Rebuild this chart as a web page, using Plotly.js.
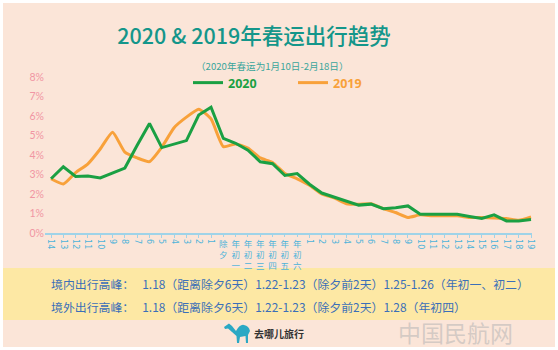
<!DOCTYPE html>
<html><head><meta charset="utf-8">
<script src="https://cdn.plot.ly/plotly-3.0.1.min.js"></script>
<style>html,body{margin:0;padding:0;background:#fff}#chart{width:558px;height:350px}</style>
</head><body><div id="chart"></div>
<script>
// category keys (2020 dates of 春运 1/10 - 2/18)
const dates = ['1/10','1/11','1/12','1/13','1/14','1/15','1/16','1/17','1/18','1/19','1/20','1/21','1/22','1/23',
  '1/24','1/25','1/26','1/27','1/28','1/29','1/30',
  '1/31','2/1','2/2','2/3','2/4','2/5','2/6','2/7','2/8','2/9','2/10','2/11','2/12','2/13','2/14','2/15','2/16','2/17','2/18'];
// tick labels as shown on the chart
const tickLabels = ['14','13','12','11','10','9','8','7','6','5','4','3','2','1',
  '除夕','年初一','年初二','年初三','年初四','年初五','年初六',
  '1','2','3','4','5','6','7','8','9','10','11','12','13','14','15','16','17','18','19'];
// share of travel (%)
const values2020 = [2.78,3.40,2.90,2.92,2.82,3.08,3.33,4.50,5.62,4.38,
  4.55,4.74,6.05,6.45,4.85,4.60,4.25,3.65,3.55,2.95,
  3.05,2.50,2.05,1.85,1.65,1.43,1.48,1.25,1.30,1.39,
  0.96,0.96,0.96,0.96,0.85,0.75,0.93,0.62,0.62,0.69];
const values2019 = [2.78,2.51,3.10,3.55,4.31,5.17,4.15,3.85,3.66,4.40,
  5.40,5.94,6.35,5.85,4.43,4.57,4.36,3.85,3.62,3.05,
  2.78,2.45,2.00,1.80,1.50,1.47,1.50,1.25,1.05,0.80,
  0.93,0.88,0.88,0.88,0.80,0.79,0.77,0.74,0.65,0.82];
const yTicks = [0,1,2,3,4,5,6,7,8];
const yTickLabels = ['0%','1%','2%','3%','4%','5%','6%','7%','8%'];

const series = ['2020','2019'];
const titleText = '2020 & 2019年春运出行趋势';
const subtitleText = '（2020年春运为1月10日-2月18日）';
const domesticPeak = '境内出行高峰：   1.18（距离除夕6天）1.22-1.23（除夕前2天）1.25-1.26（年初一、初二）';
const overseasPeak = '境外出行高峰：   1.18（距离除夕6天）1.22-1.23（除夕前2天）1.28（年初四）';
const brand = '去哪儿旅行';
const watermark = '中国民航网';

const GREEN = '#1aa043', ORANGE = '#f8a13a', TICK = '#4db3da', CN = 'Noto Sans CJK SC';

// split ticks: numbers rotated, chinese stacked
const isCn = s => /[\u4e00-\u9fff]/.test(s);
const numVals = [], numText = [], cnVals = [], cnText = [];
tickLabels.forEach((t, i) => {
  if (isCn(t)) { cnVals.push(i); cnText.push(t.split('').join('<br>')); }
  else { numVals.push(dates[i]); numText.push(t); }
});

// pixel -> paper helpers (plot area: l=45, t=77, w=487, h=156)
const L = 45, T = 77, W = 487, H = 156;
const px = x => (x - L) / W, py = y => (T + H - y) / H;
function path(pts) {
  return pts.map(p => p[0] + ' ' + px(p[1]).toFixed(4) + ',' + py(p[2]).toFixed(4)).join(' ') + ' Z';
}

const xRange = [-0.49, 39.08];

const data = [
  {x: dates, y: values2019, name: '<b><span style="color:' + ORANGE + '">' + series[1] + '</span></b>', type: 'scatter', mode: 'lines',
   line: {color: ORANGE, width: 3, shape: 'spline', smoothing: 0.5}, legendrank: 2},
  {x: dates, y: values2020, name: '<b><span style="color:' + GREEN + '">' + series[0] + '</span></b>', type: 'scatter', mode: 'lines',
   line: {color: GREEN, width: 3}, legendrank: 1},
  // invisible helper so the overlay axis (chinese labels) is drawn
  {x: cnVals, y: cnVals.map(i => values2020[i]), xaxis: 'x2', type: 'scatter', mode: 'markers',
   marker: {opacity: 0, size: 1}, showlegend: false, hoverinfo: 'skip'}
];

const layout = {
  width: 558, height: 350,
  margin: {l: L, r: 558 - L - W, t: T, b: 350 - T - H},
  paper_bgcolor: '#ffffff', plot_bgcolor: 'rgba(0,0,0,0)',
  font: {family: CN},
  title: {text: titleText, x: 254/558, xanchor: 'center', xref: 'container', y: 1 - 36/350, yanchor: 'middle', yref: 'container',
    font: {family: CN, size: 21.5, color: '#14968a', weight: 500}},
  showlegend: true,
  legend: {orientation: 'h', x: px(188), xanchor: 'left', y: py(83), yanchor: 'middle',
    bgcolor: 'rgba(0,0,0,0)', font: {size: 12.5, family: 'Noto Sans'}, entrywidth: 60, entrywidthmode: 'pixels'},
  xaxis: {type: 'category', categoryorder: 'array', categoryarray: dates, range: xRange,
    tickmode: 'array', tickvals: numVals, ticktext: numText, tickangle: 90,
    tickfont: {size: 8, color: TICK, family: 'DejaVu Sans'}, ticks: 'outside', ticklen: 3, tickcolor: '#9fd3e8', tickwidth: 1,
    showline: true, linecolor: '#9fd3e8', linewidth: 1.5, showgrid: false, zeroline: false, fixedrange: true},
  xaxis2: {overlaying: 'x', anchor: 'y', side: 'bottom', type: 'linear', range: xRange,
    tickmode: 'array', tickvals: cnVals, ticktext: cnText, tickangle: 0,
    tickfont: {size: 8.5, color: TICK, family: CN}, ticks: 'outside', ticklen: 3, tickcolor: '#9fd3e8',
    showline: false, showgrid: false, zeroline: false},
  yaxis: {range: [0, 8], tickmode: 'array', tickvals: yTicks, ticktext: yTickLabels, showgrid: false, zeroline: false,
    showline: false, ticks: '', tickfont: {size: 10.5, color: '#f196a3', family: 'Lato'}},
  shapes: [
    {type: 'rect', xref: 'paper', yref: 'paper', x0: px(3), x1: px(555), y0: py(3), y1: py(347),
     fillcolor: '#fbe5d8', line: {width: 0}, layer: 'below'},
    {type: 'rect', xref: 'paper', yref: 'paper', x0: px(3), x1: px(555), y0: py(268), y1: py(320),
     fillcolor: '#fde8a4', line: {width: 0}, layer: 'below'},
    {type: 'path', xref: 'paper', yref: 'paper', fillcolor: '#2aa8c4', line: {width: 0}, layer: 'above',
     path: path([['M',224,327],['L',229,323.5],['L',232,326],['L',236,331],['Q',240,324],[' ',244,325],['Q',249,326],[' ',250,331],
       ['L',248,335],['L',248,343],['L',246,343],['L',245.5,336],['L',240,337],['L',239,343],['L',237,343],['L',236.5,336],
       ['L',232,332],['L',228,328.5],['L',225,329]])}
  ],
  annotations: [
    {text: subtitleText, xref: 'paper', yref: 'paper', x: px(272), y: py(66), xanchor: 'center', yanchor: 'middle',
     showarrow: false, font: {family: CN, size: 9.6, color: '#3aa59b'}},
    {text: domesticPeak, xref: 'paper', yref: 'paper', x: px(49), y: py(283), xanchor: 'left', yanchor: 'middle',
     showarrow: false, font: {family: CN, size: 11.9, color: '#3b6fb8'}},
    {text: overseasPeak, xref: 'paper', yref: 'paper', x: px(49), y: py(306), xanchor: 'left', yanchor: 'middle',
     showarrow: false, font: {family: CN, size: 11.9, color: '#3b6fb8'}},
    {text: '<b>' + brand + '</b>', xref: 'paper', yref: 'paper', x: px(252), y: py(333), xanchor: 'left', yanchor: 'middle',
     showarrow: false, font: {family: CN, size: 10, color: '#333333'}},
    {text: watermark, xref: 'paper', yref: 'paper', x: px(455), y: py(332), xanchor: 'center', yanchor: 'middle',
     showarrow: false, font: {family: CN, size: 23, color: 'rgba(180,180,180,0.55)'}}
  ]
};

Plotly.newPlot('chart', data, layout, {staticPlot: true, displayModeBar: false});
</script></body></html>
